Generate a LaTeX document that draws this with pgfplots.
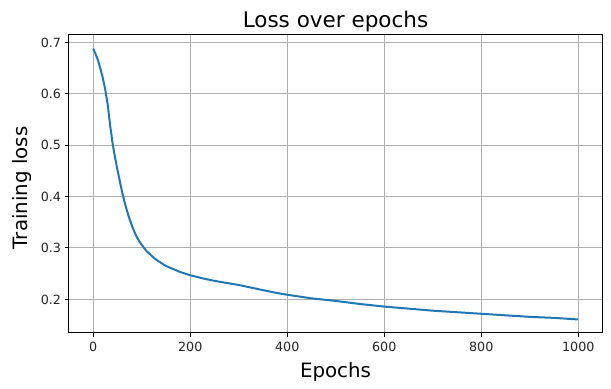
\documentclass[border=0pt]{standalone}
\usepackage{pgfplots}
\pgfplotsset{compat=1.18}
\usepackage{fontspec}
\setmainfont{DejaVu Sans}
\definecolor{c0}{RGB}{31,119,180}
\definecolor{gridc}{RGB}{176,176,176}
\pgfplotstableread{
epoch loss
0 0.688
5 0.677
10 0.665
15 0.648
20 0.630
25 0.607
30 0.578
35 0.538
40 0.503
45 0.476
50 0.452
55 0.429
60 0.407
65 0.388
70 0.371
75 0.356
80 0.343
85 0.331
90 0.321
95 0.313
100 0.306
110 0.294
120 0.285
130 0.277
140 0.271
150 0.265
160 0.261
170 0.257
180 0.253
190 0.250
200 0.247
225 0.241
250 0.236
275 0.232
300 0.228
325 0.223
350 0.218
375 0.213
400 0.209
450 0.202
500 0.197
550 0.191
600 0.186
650 0.182
700 0.178
750 0.175
800 0.172
850 0.169
900 0.166
950 0.164
999 0.161
}\losstable
\begin{document}
\begin{tikzpicture}
\begin{axis}[
  scale only axis, width=533pt, height=298pt,
  xmin=-49.95, xmax=1048.95, ymin=0.1346, ymax=0.7144,
  xtick={0,200,400,600,800,1000},
  ytick={0.2,0.3,0.4,0.5,0.6,0.7},
  grid=major, major grid style={color=gridc, line width=1pt},
  axis line style={line width=1pt},
  tick style={black, line width=1pt}, tick align=outside, major tick length=4.5pt,
  xtick pos=bottom, ytick pos=left,
  /pgf/number format/assume math mode=true,
  /pgf/number format/1000 sep={},
  ticklabel style={font=\fontsize{12.7}{14}\selectfont, text=black!85},
  xticklabel style={yshift=-1pt},
  yticklabel style={/pgf/number format/fixed, /pgf/number format/precision=1, /pgf/number format/fixed zerofill},
  title={Loss over epochs}, title style={font=\fontsize{21.5}{24}\selectfont, yshift=-7pt},
  xlabel={Epochs}, ylabel={Training loss},
  label style={font=\fontsize{19.8}{22}\selectfont},
  xlabel style={yshift=-4pt},
  ylabel style={yshift=2pt, xshift=-4pt},
]
\addplot[c0, line width=2pt] table[x=epoch, y=loss] {\losstable};
\end{axis}
\path[use as bounding box] ([shift={(-69pt,-56pt)}]current axis.south west) rectangle ([shift={(9pt,35pt)}]current axis.north east);
\end{tikzpicture}
\end{document}
